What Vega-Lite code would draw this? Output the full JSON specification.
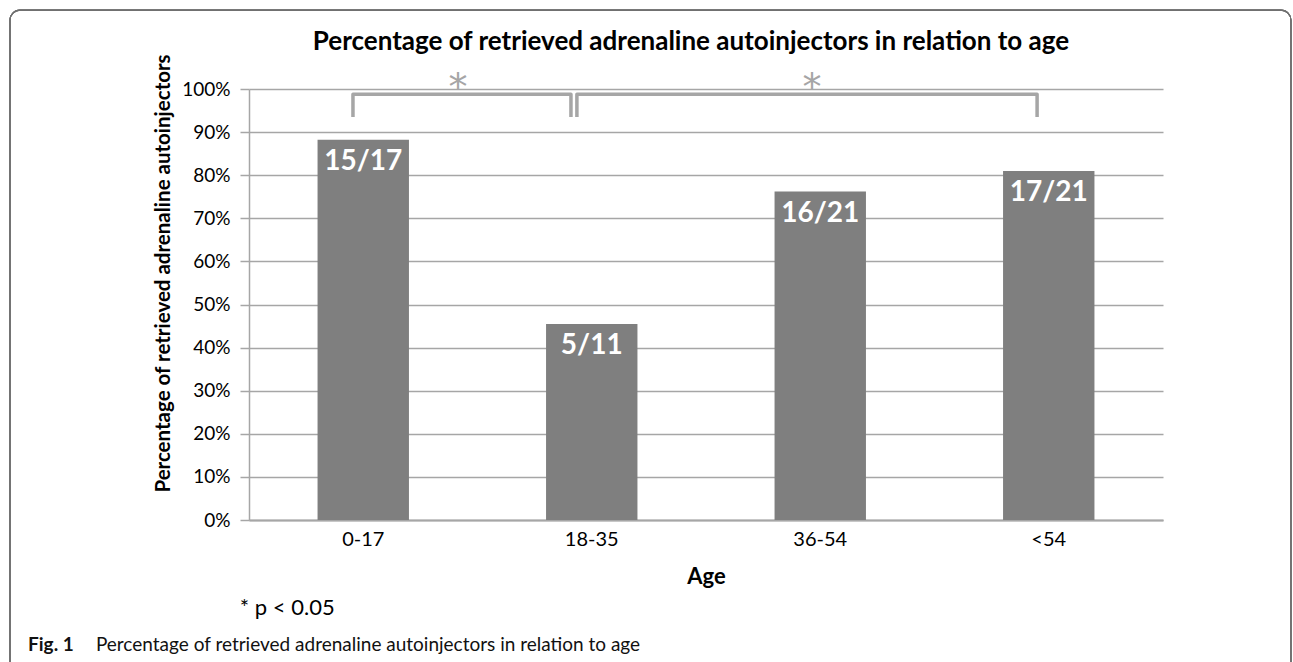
{
  "$schema": "https://vega.github.io/schema/vega-lite/v6.json",
  "width": 914,
  "height": 431,
  "autosize": {"type": "none"},
  "padding": {"left": 249, "top": 89, "right": 130, "bottom": 142},
  "background": "white",
  "config": {"view": {"stroke": null}, "font": "Lato"},
  "title": {
    "text": "Percentage of retrieved adrenaline autoinjectors in relation to age",
    "font": "Lato", "fontSize": 26, "fontWeight": "bold", "color": "#000000",
    "anchor": "middle", "frame": "group", "offset": 2, "baseline": "alphabetic", "dx": -15, "dy": 68
  },
  "datasets": {
    "bars": [
      {"age": "0-17", "pct": 88.2, "label": "15/17"},
      {"age": "18-35", "pct": 45.5, "label": "5/11"},
      {"age": "36-54", "pct": 76.2, "label": "16/21"},
      {"age": "<54", "pct": 81.0, "label": "17/21"}
    ],
    "brackets": [
      {"b": 1, "o": 1, "bx": 0.455, "by": 93.5},
      {"b": 1, "o": 2, "bx": 0.455, "by": 98.8},
      {"b": 1, "o": 3, "bx": 1.409, "by": 98.8},
      {"b": 1, "o": 4, "bx": 1.409, "by": 93.5},
      {"b": 2, "o": 1, "bx": 1.435, "by": 93.5},
      {"b": 2, "o": 2, "bx": 1.435, "by": 98.8},
      {"b": 2, "o": 3, "bx": 3.449, "by": 98.8},
      {"b": 2, "o": 4, "bx": 3.449, "by": 93.5}
    ],
    "stars": [
      {"sx": 0.915, "sy": 101.9},
      {"sx": 2.464, "sy": 101.9}
    ]
  },
  "resolve": {"scale": {"x": "independent"}, "axis": {"x": "independent"}},
  "layer": [
    {
      "data": {"name": "bars"},
      "mark": {"type": "rect", "fillOpacity": 0, "stroke": "#707070", "strokeWidth": 1.2, "cornerRadius": 10},
      "encoding": {
        "x": {"datum": -1.046, "type": "quantitative", "scale": {"domain": [0, 4], "nice": false, "zero": false}, "axis": null},
        "x2": {"datum": 4.56},
        "y": {"datum": 118.3, "type": "quantitative", "scale": {"domain": [0, 100]}},
        "y2": {"datum": -45}
      }
    },
    {
      "data": {"name": "bars"},
      "layer": [
        {
          "mark": {"type": "bar", "color": "#7f7f7f", "width": {"band": 1}},
          "encoding": {
            "x": {
              "field": "age", "type": "nominal", "sort": null,
              "scale": {"paddingInner": 0.6, "paddingOuter": 0.3},
              "axis": {
                "title": "Age", "labelAngle": 0, "ticks": false,
                "domainColor": "#a6a6a6", "domainWidth": 2,
                "labelFont": "Lato", "labelFontSize": 20, "labelColor": "#000000",
                "labelBaseline": "alphabetic", "labelPadding": 25,
                "titleFont": "Lato", "titleFontSize": 22, "titleFontWeight": "bold", "titleColor": "#000000",
                "titleBaseline": "alphabetic", "titleY": 63
              }
            },
            "y": {
              "field": "pct", "type": "quantitative",
              "scale": {"domain": [0, 100]},
              "axis": {
                "title": "Percentage of retrieved  adrenaline autoinjectors",
                "values": [0, 10, 20, 30, 40, 50, 60, 70, 80, 90, 100],
                "labelExpr": "datum.value + '%'",
                "grid": true, "gridColor": "#a6a6a6", "gridWidth": 1.5,
                "domainColor": "#a6a6a6", "domainWidth": 1.5,
                "tickColor": "#a6a6a6", "tickSize": 9, "tickWidth": 1.5,
                "labelFont": "Lato", "labelFontSize": 19, "labelColor": "#000000", "labelPadding": 10,
                "titleFont": "Lato", "titleFontSize": 20.5, "titleFontWeight": "bold", "titleColor": "#000000",
                "titleAngle": -90, "titleAlign": "center", "titleBaseline": "alphabetic",
                "titleX": -80, "titleY": 184
              }
            }
          }
        },
        {
          "mark": {"type": "text", "color": "white", "font": "Lato", "fontWeight": "bold", "fontSize": 28, "baseline": "alphabetic", "dy": 30},
          "encoding": {
            "x": {"field": "age", "type": "nominal", "sort": null},
            "y": {"field": "pct", "type": "quantitative", "scale": {"domain": [0, 100]}},
            "text": {"field": "label"}
          }
        }
      ]
    },
    {
      "data": {"name": "brackets"},
      "mark": {"type": "line", "color": "#a6a6a6", "strokeWidth": 3.5, "strokeJoin": "round"},
      "encoding": {
        "x": {"field": "bx", "type": "quantitative", "scale": {"domain": [0, 4], "nice": false, "zero": false}, "axis": null},
        "y": {"field": "by", "type": "quantitative", "scale": {"domain": [0, 100]}},
        "detail": {"field": "b"},
        "order": {"field": "o"}
      }
    },
    {
      "data": {"name": "stars"},
      "mark": {"type": "text", "text": "*", "color": "#a6a6a6", "font": "DejaVu Sans", "fontSize": 38, "baseline": "middle", "dy": 8},
      "encoding": {
        "x": {"field": "sx", "type": "quantitative", "scale": {"domain": [0, 4], "nice": false, "zero": false}, "axis": null},
        "y": {"field": "sy", "type": "quantitative", "scale": {"domain": [0, 100]}}
      }
    },
    {
      "data": {"name": "bars"},
      "transform": [{"filter": "datum.age === '0-17'"}],
      "mark": {"type": "text", "text": "* p < 0.05", "color": "#000000", "font": "Lato", "fontSize": 22, "align": "left", "baseline": "alphabetic"},
      "encoding": {
        "x": {"datum": -0.04, "type": "quantitative", "scale": {"domain": [0, 4], "nice": false, "zero": false}, "axis": null},
        "y": {"datum": -22.0, "type": "quantitative", "scale": {"domain": [0, 100]}}
      }
    },
    {
      "data": {"name": "bars"},
      "transform": [{"filter": "datum.age === '0-17'"}],
      "mark": {"type": "text", "text": "Fig. 1", "color": "#111111", "font": "Lato", "fontWeight": "bold", "fontSize": 19, "align": "left", "baseline": "alphabetic"},
      "encoding": {
        "x": {"datum": -0.967, "type": "quantitative", "scale": {"domain": [0, 4], "nice": false, "zero": false}, "axis": null},
        "y": {"datum": -30.5, "type": "quantitative", "scale": {"domain": [0, 100]}}
      }
    },
    {
      "data": {"name": "bars"},
      "transform": [{"filter": "datum.age === '0-17'"}],
      "mark": {"type": "text", "text": "Percentage of retrieved adrenaline autoinjectors in relation to age", "color": "#111111", "font": "Lato", "fontSize": 19, "align": "left", "baseline": "alphabetic"},
      "encoding": {
        "x": {"datum": -0.67, "type": "quantitative", "scale": {"domain": [0, 4], "nice": false, "zero": false}, "axis": null},
        "y": {"datum": -30.5, "type": "quantitative", "scale": {"domain": [0, 100]}}
      }
    }
  ]
}
